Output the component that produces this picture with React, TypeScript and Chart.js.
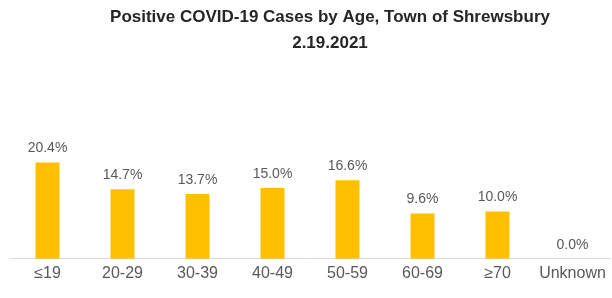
import React, { useEffect, useRef } from "react";
import { Chart, registerables } from "chart.js";

Chart.register(...registerables);

const categories = ["≤19", "20-29", "30-39", "40-49", "50-59", "60-69", "≥70", "Unknown"];
const values = [20.4, 14.7, 13.7, 15.0, 16.6, 9.6, 10.0, 0.0];
const titleLines = ["Positive COVID-19 Cases by Age, Town of Shrewsbury", "2.19.2021"];

const FONT = "'Liberation Sans', Arial, sans-serif";

const valueLabels = {
  id: "valueLabels",
  afterDatasetsDraw(chart: any) {
    const ctx = chart.ctx;
    const meta = chart.getDatasetMeta(0);
    ctx.save();
    ctx.font = `14px ${FONT}`;
    ctx.fillStyle = "#595959";
    ctx.textAlign = "center";
    ctx.textBaseline = "bottom";
    meta.data.forEach((el: any, i: number) => {
      const v = chart.data.datasets[0].data[i] as number;
      ctx.fillText(v.toFixed(1) + "%", el.x, el.y - 7);
    });
    ctx.restore();
  },
};

const titleDraw = {
  id: "titleDraw",
  afterDraw(chart: any) {
    const ctx = chart.ctx;
    ctx.save();
    ctx.font = `bold 17px ${FONT}`;
    ctx.fillStyle = "#262626";
    ctx.textAlign = "center";
    ctx.textBaseline = "middle";
    titleLines.forEach((t, i) => ctx.fillText(t, 330, 17 + i * 26));
    ctx.restore();
  },
};

export default function App() {
  const ref = useRef<HTMLCanvasElement>(null);
  useEffect(() => {
    const chart = new Chart(ref.current!, {
      type: "bar",
      data: {
        labels: categories,
        datasets: [
          {
            data: values,
            backgroundColor: "#FFC000",
            barPercentage: 0.64,
            categoryPercentage: 0.5,
          },
        ],
      },
      options: {
        animation: false,
        responsive: false,
        layout: { padding: { left: 10, right: 2, top: 117, bottom: 10 } },
        plugins: {
          legend: { display: false },
          tooltip: { enabled: false },
          title: { display: false },
        },
        scales: {
          x: {
            grid: { display: false, drawTicks: false },
            border: { display: true, color: "#d9d9d9", width: 1 },
            ticks: { color: "#595959", font: { family: FONT, size: 16 }, padding: 5 },
          },
          y: { display: false, min: 0, max: 30 },
        },
      },
      plugins: [valueLabels, titleDraw],
    });
    return () => chart.destroy();
  }, []);
  return (
    <div style={{ position: "absolute", left: 0, top: 0, width: 612, height: 298, background: "#fff" }}>
      <canvas ref={ref} width={612} height={298} />
    </div>
  );
}
